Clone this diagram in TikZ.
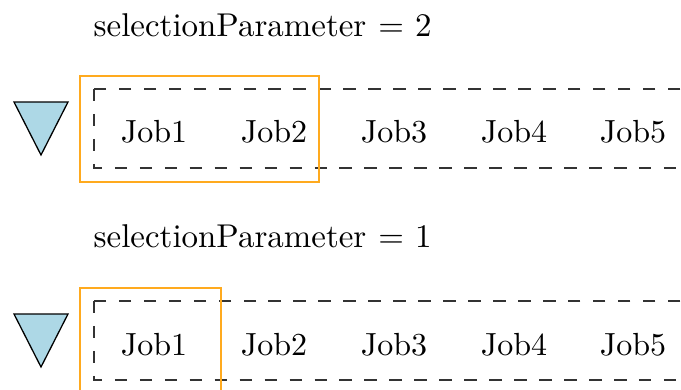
\documentclass[tikz,border=0pt]{standalone}
\begin{document}
\begin{tikzpicture}[x=0.3125pt,y=-0.3125pt,
  joblabel/.style={anchor=base,inner sep=0pt},
  paramlabel/.style={anchor=base west,inner sep=0pt,font=\fontsize{10.3pt}{12pt}\selectfont},
  queuebox/.style={draw=black!80,line width=0.4pt,dash pattern=on 3.9pt off 3.9pt},
  selbox/.style={draw=selorange,line width=0.4pt},
  pointer/.style={draw=black,fill=lightbluetri,line width=0.4pt,line join=miter}]
\definecolor{lightbluetri}{RGB}{173,216,230}
\definecolor{selorange}{RGB}{255,170,30}
\useasboundingbox (0,0) rectangle (681,389);
\clip (0,0) rectangle (681,389);
% ---------- panel 1 ----------
\node[paramlabel] (p2) at (93,36) {selectionParameter\kern3.8pt=\kern3.4pt2};
\draw[pointer] (14,102) -- (68,102) -- (41,155) -- cycle;
\draw[queuebox] (94,89) -- (94,168) -- (720,168) -- (720,89) -- cycle;
\draw[selbox] (80,76) rectangle (319,182);
\node[joblabel] (a1) at (154,142.5) {Job1};
\node[joblabel] (a2) at (274,142.5) {Job2};
\node[joblabel] (a3) at (394,142.5) {Job3};
\node[joblabel] (a4) at (514,142.5) {Job4};
\node[joblabel] (a5) at (633,142.5) {Job5};
% ---------- panel 2 ----------
\node[paramlabel] (p1) at (93,247.5) {selectionParameter\kern3.8pt=\kern3.4pt1};
\draw[pointer] (14,314) -- (68,314) -- (41,367) -- cycle;
\draw[queuebox] (94,301) -- (94,380) -- (720,380) -- (720,301) -- cycle;
\draw[selbox] (80,288) rectangle (221,400);
\node[joblabel] (b1) at (154,355) {Job1};
\node[joblabel] (b2) at (274,355) {Job2};
\node[joblabel] (b3) at (394,355) {Job3};
\node[joblabel] (b4) at (514,355) {Job4};
\node[joblabel] (b5) at (633,355) {Job5};
\end{tikzpicture}
\end{document}
